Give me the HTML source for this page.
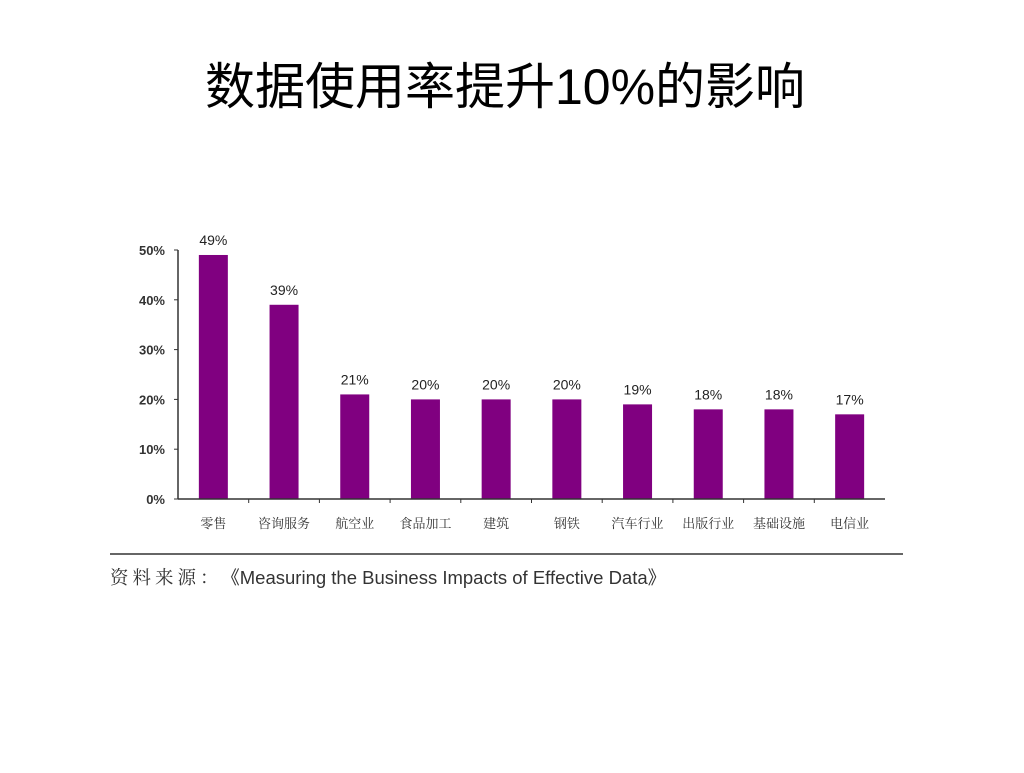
<!DOCTYPE html>
<html><head><meta charset="utf-8"><style>
body{margin:0;background:#fff;width:1024px;height:768px;overflow:hidden}
</style></head><body>
<svg width="1024" height="768" style="font-family:'Liberation Sans','Noto Sans CJK SC',sans-serif">
<text x="505" y="104" text-anchor="middle" font-size="50" fill="#000">数据使用率提升10%的影响</text>
<g id="plot"></g>
<line x1="110" y1="554" x2="903" y2="554" stroke="#333" stroke-width="1.5"/>
<text x="110" y="584" font-size="18.5" fill="#333"><tspan font-family="'Noto Serif CJK SC',serif" letter-spacing="4">资料来源：</tspan><tspan dx="8">《Measuring the Business Impacts of Effective Data》</tspan></text>
</svg>
<script>
const categories=["零售","咨询服务","航空业","食品加工","建筑","钢铁","汽车行业","出版行业","基础设施","电信业"];
const values=[49,39,21,20,20,20,19,18,18,17];
const yTicks=[0,10,20,30,40,50];
const NS="http://www.w3.org/2000/svg";
const g=document.getElementById('plot');
const x0=178,x1=885,y0=499,yTop=250,vMax=50;
const step=(x1-x0)/categories.length;
const y=v=>y0-(v/vMax)*(y0-yTop);
const xc=i=>x0+step*(i+0.5);
function mk(t,a){const e=document.createElementNS(NS,t);for(const k in a)e.setAttribute(k,a[k]);g.appendChild(e);return e;}
yTicks.forEach(v=>{
 const l=mk('line',{x1:x0-4,x2:x0,y1:y(v),y2:y(v),stroke:'#333'});
 
 
 const t=mk('text',{x:x0-13,y:y(v)+5,'text-anchor':'end','font-size':13,'font-weight':'bold',fill:'#333'});
 t.textContent=v+'%';
 
 
});
categories.forEach((c,i)=>{
 const b=mk('rect',{x:xc(i)-14.5,y:y(values[i]),width:29,height:y0-y(values[i]),fill:'#800080'});
 
 
 const v=mk('text',{x:xc(i),y:y(values[i])-10,'text-anchor':'middle','font-size':14,fill:'#222'});
 v.textContent=values[i]+'%';
 
 
 const t=mk('text',{x:xc(i),y:y0+29,'text-anchor':'middle','font-size':13,fill:'#333','font-family':"'Noto Serif CJK SC',serif"});
 t.textContent=c;
 
 
 if(i>0){const tk=mk('line',{x1:x0+step*i,x2:x0+step*i,y1:y0,y2:y0+4,stroke:'#333'});
 
 }
});
const ax=mk('line',{x1:x0,x2:x0,y1:yTop,y2:y0,stroke:'#333','stroke-width':1.5});


const bx=mk('line',{x1:x0,x2:x1,y1:y0,y2:y0,stroke:'#333','stroke-width':1.5});


</script>
</body></html>
